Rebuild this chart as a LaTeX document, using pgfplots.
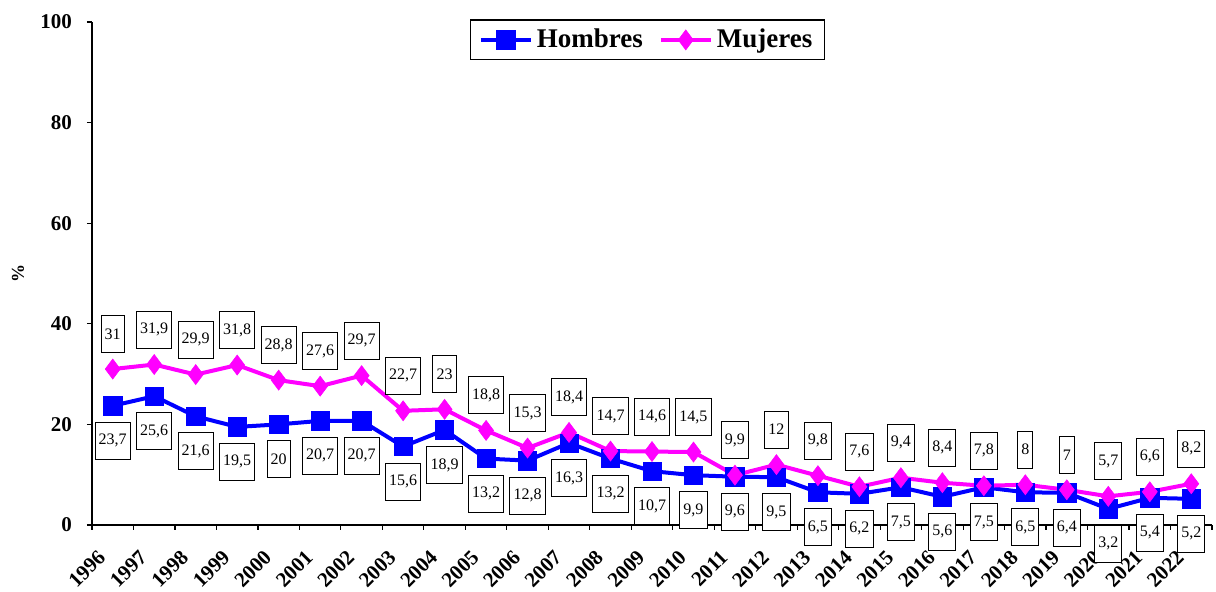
\documentclass[border=0pt]{standalone}
\usepackage{fontspec}
\setmainfont{Liberation Serif}
\usepackage{pgfplots}
\usepackage{pgfplotstable}
\pgfplotsset{compat=1.18}
\definecolor{hblue}{RGB}{0,0,255}
\definecolor{mmag}{RGB}{255,0,255}

\pgfplotstableread{
x h m
0 23.7 31
1 25.6 31.9
2 21.6 29.9
3 19.5 31.8
4 20 28.8
5 20.7 27.6
6 20.7 29.7
7 15.6 22.7
8 18.9 23
9 13.2 18.8
10 12.8 15.3
11 16.3 18.4
12 13.2 14.7
13 10.7 14.6
14 9.9 14.5
15 9.6 9.9
16 9.5 12
17 6.5 9.8
18 6.2 7.6
19 7.5 9.4
20 5.6 8.4
21 7.5 7.8
22 6.5 8
23 6.4 7
24 3.2 5.7
25 5.4 6.6
26 5.2 8.2
}\datatable

\begin{document}
\begin{tikzpicture}
\begin{axis}[
  scale only axis, width=560pt, height=251.5pt,
  at={(0,0)}, anchor=south west,
  clip=false,
  xmin=-0.5, xmax=26.5, ymin=0, ymax=100,
  axis x line*=bottom, axis y line*=left,
  axis line style={-, line width=0.6pt, black},
  tick align=outside,
  major tick length=2.5pt,
  tick style={line width=0.6pt, black},
  ytick={0,20,40,60,80,100},
  xtick={-0.5,0.5,...,26.5}, xticklabels={},
  extra x ticks={0,1,...,26},
  extra x tick labels={1996,1997,1998,1999,2000,2001,2002,2003,2004,2005,2006,2007,2008,2009,2010,2011,2012,2013,2014,2015,2016,2017,2018,2019,2020,2021,2022},
  extra x tick style={major tick length=0pt,
    xticklabel style={xshift=-3pt, yshift=-12pt, rotate=45, anchor=east}},
  ticklabel style={font=\bfseries\fontsize{10.5}{12}\selectfont},
  yticklabel style={xshift=-4pt},
  /pgf/number format/.cd, use comma, assume math mode=true, /pgfplots/.cd,
  ylabel={\%},
  ylabel style={at={(axis description cs:-0.066,0.5)}, anchor=center, font=\bfseries\fontsize{9}{11}\selectfont},
  legend style={at={(0.496,1.005)}, anchor=north, legend columns=2, draw=black, line width=0.6pt,
    font=\bfseries\fontsize{13.5}{16}\selectfont, inner ysep=2.5pt, inner xsep=4pt,
    /tikz/every even column/.append style={column sep=6pt}},
  legend image code/.code={\draw[mark repeat=2, mark phase=2] plot coordinates {(0pt,0pt) (12.5pt,0pt) (25pt,0pt)};},
]
\addplot[hblue, line width=2pt, mark=square*, mark size=4.6pt, mark options={solid, line width=0.3pt, fill=hblue},
  nodes near coords,
  every node near coord/.append style={anchor=north, yshift=-8pt, text=black, draw=black, fill=white,
    line width=0.5pt, inner xsep=1.8pt, inner ysep=0pt, minimum height=18.5pt,
    font=\fontsize{8}{9.6}\selectfont}]
  table[x=x, y=h] {\datatable};
\addlegendentry{Hombres}
\addplot[mmag, line width=2pt, mark=diamond*, mark size=5pt, mark options={solid, line width=0.3pt, fill=mmag},
  nodes near coords,
  every node near coord/.append style={anchor=south, yshift=8pt, text=black, draw=black, fill=white,
    line width=0.5pt, inner xsep=1.8pt, inner ysep=0pt, minimum height=18.5pt,
    font=\fontsize{8}{9.6}\selectfont}]
  table[x=x, y=m] {\datatable};
\addlegendentry{Mujeres}
\end{axis}
\pgfresetboundingbox
\path[use as bounding box] (-46pt,-33.5pt) rectangle (562pt,262.5pt);
\end{tikzpicture}
\end{document}
